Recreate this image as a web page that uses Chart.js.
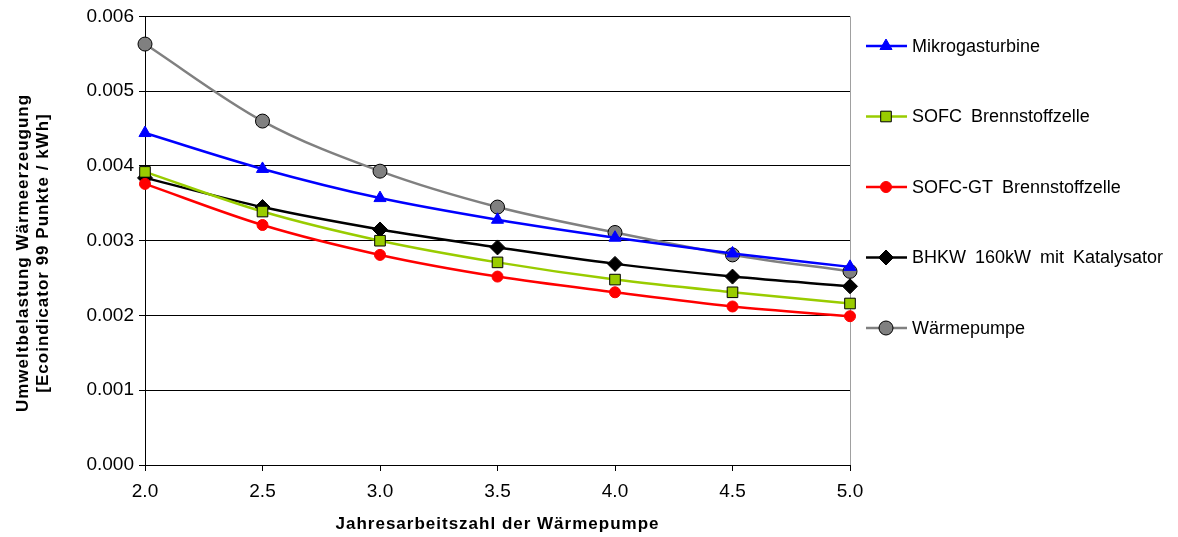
<!DOCTYPE html>
<html>
<head>
<meta charset="utf-8">
<script src="https://cdn.jsdelivr.net/npm/chart.js@4.4.1/dist/chart.umd.min.js"></script>
<style>
  html, body { margin: 0; padding: 0; background: #fff; }
  #wrap { width: 1178px; height: 537px; position: relative; }
</style>
</head>
<body>
<div id="wrap"><canvas id="c" width="1178" height="537"></canvas></div>
<script>
// Jahresarbeitszahl (x) and environmental load per technology (y)
const jaz = [2.0, 2.5, 3.0, 3.5, 4.0, 4.5, 5.0];
const mikrogasturbine = [0.00444, 0.00396, 0.00357, 0.00328, 0.00304, 0.00283, 0.00265];
const sofc = [0.00392, 0.00339, 0.00300, 0.00271, 0.00248, 0.00231, 0.00216];
const sofcGt = [0.00376, 0.00321, 0.00281, 0.00252, 0.00231, 0.00212, 0.00199];
const bhkw = [0.00384, 0.00345, 0.00315, 0.00291, 0.00269, 0.00252, 0.00239];
const waermepumpe = [0.00563, 0.00460, 0.00393, 0.00345, 0.00311, 0.00281, 0.00259];
const seriesNames = ['Mikrogasturbine', 'SOFC Brennstoffzelle', 'SOFC-GT Brennstoffzelle', 'BHKW 160kW mit Katalysator', 'Wärmepumpe'];
const yTickValues = [0, 0.001, 0.002, 0.003, 0.004, 0.005, 0.006];
const xTickValues = [2.0, 2.5, 3.0, 3.5, 4.0, 4.5, 5.0];
const xTitle = 'Jahresarbeitszahl der Wärmepumpe';
const yTitle = ['Umweltbelastung Wärmeerzeugung', '[Ecoindicator 99 Punkte / kWh]'];

const FONT = '"Liberation Sans", Arial, sans-serif';

function pts(vals) { return jaz.map((x, i) => ({ x: x, y: vals[i] })); }

function ds(label, vals, color, style, radius, fill, border) {
  return {
    label: label,
    data: pts(vals),
    borderColor: color,
    borderWidth: 2.5,
    pointStyle: style,
    pointRadius: radius,
    pointHoverRadius: radius,
    pointBackgroundColor: fill,
    pointBorderColor: border,
    pointBorderWidth: 1,
    tension: 0.35,
    cubicInterpolationMode: 'monotone',
    clip: false,
    fill: false
  };
}

const datasets = [
  ds(seriesNames[0], mikrogasturbine, '#0000ff', 'triangle', 7, '#0000ff', '#0000ff'),
  ds(seriesNames[1], sofc, '#99cc00', 'rect', 7.5, '#99cc00', '#000000'),
  ds(seriesNames[2], sofcGt, '#ff0000', 'circle', 5.5, '#ff0000', '#ff0000'),
  ds(seriesNames[3], bhkw, '#000000', 'rectRot', 7.5, '#000000', '#000000'),
  ds(seriesNames[4], waermepumpe, '#808080', 'circle', 7, '#808080', '#000000')
];

// Axis titles (letter-spaced), right frame line and the legend on the right-hand side
const decorations = {
  id: 'decorations',
  beforeDatasetsDraw(chart) {
    const ctx = chart.ctx;
    const area = chart.chartArea;
    ctx.save();
    ctx.strokeStyle = '#a0a0a0';
    ctx.lineWidth = 1;
    ctx.beginPath();
    ctx.moveTo(Math.round(area.right) + 0.5, area.top);
    ctx.lineTo(Math.round(area.right) + 0.5, area.bottom);
    ctx.stroke();
    ctx.restore();
  },
  afterDraw(chart) {
    const ctx = chart.ctx;
    const area = chart.chartArea;
    ctx.save();

    // axis titles
    ctx.fillStyle = '#000';
    ctx.font = 'bold 17px ' + FONT;
    ctx.letterSpacing = '1px';
    ctx.textAlign = 'center';
    ctx.textBaseline = 'middle';
    ctx.fillText(xTitle, (area.left + area.right) / 2, 524);

    ctx.save();
    ctx.translate(0, 253);
    ctx.rotate(-Math.PI / 2);
    ctx.fillText(yTitle[0], 0, 23);
    ctx.fillText(yTitle[1], 0, 43);
    ctx.restore();

    // legend
    const x0 = area.right + 16;
    const startY = 46;
    const gap = 70.5;
    ctx.letterSpacing = '0px';
    chart.data.datasets.forEach((d, i) => {
      const y = startY + i * gap;
      ctx.strokeStyle = d.borderColor;
      ctx.lineWidth = 2.5;
      ctx.beginPath();
      ctx.moveTo(x0, y);
      ctx.lineTo(x0 + 41, y);
      ctx.stroke();
      ctx.fillStyle = d.pointBackgroundColor;
      ctx.strokeStyle = d.pointBorderColor;
      ctx.lineWidth = 1;
      Chart.helpers.drawPoint(ctx, {
        pointStyle: d.pointStyle,
        radius: d.pointRadius,
        borderWidth: 1,
        rotation: 0
      }, x0 + 20, y);
      ctx.fillStyle = '#000';
      ctx.font = '18px ' + FONT;
      ctx.wordSpacing = '4px';
      ctx.textBaseline = 'middle';
      ctx.textAlign = 'left';
      ctx.fillText(d.label, x0 + 46, y + 1);
    });
    ctx.restore();
  }
};

new Chart(document.getElementById('c'), {
  type: 'line',
  data: { datasets: datasets },
  options: {
    responsive: false,
    animation: false,
    events: [],
    layout: { padding: { top: 15, right: 328, left: 0, bottom: 0 } },
    plugins: { legend: { display: false }, tooltip: { enabled: false } },
    scales: {
      x: {
        type: 'linear',
        min: 2, max: 5,
        afterBuildTicks(axis) { axis.ticks = xTickValues.map(v => ({ value: v })); },
        afterFit(axis) { axis.height = 72; },
        grid: { drawOnChartArea: false, drawTicks: true, tickLength: 6, color: '#000' },
        border: { color: '#000', width: 1 },
        ticks: {
          color: '#000',
          font: { family: FONT, size: 19 },
          padding: 9,
          maxRotation: 0,
          callback: v => Number(v).toFixed(1)
        }
      },
      y: {
        type: 'linear',
        min: 0, max: 0.006,
        afterBuildTicks(axis) { axis.ticks = yTickValues.map(v => ({ value: v })); },
        afterFit(axis) { axis.width = 145; },
        grid: { color: '#000', lineWidth: 1, drawTicks: true, tickLength: 6, tickColor: '#000' },
        border: { color: '#000', width: 1 },
        ticks: {
          color: '#000',
          font: { family: FONT, size: 19 },
          padding: 5,
          callback: v => Number(v).toFixed(3)
        }
      }
    }
  },
  plugins: [decorations]
});
</script>
</body>
</html>
